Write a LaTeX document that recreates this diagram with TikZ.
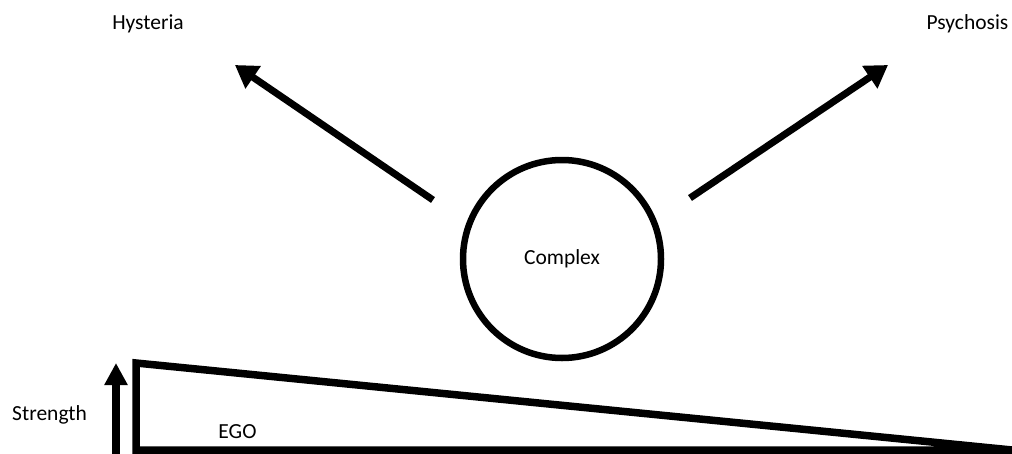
\documentclass[tikz,border=0pt]{standalone}
\usepackage{fontspec}
\setmainfont{Carlito}
\usetikzlibrary{arrows.meta}
\tikzset{
	lbl/.style={font=\fontsize{21.5}{26}\selectfont,inner sep=0pt,anchor=base},
	fatarrow/.style={line width=7pt,-{Triangle[width=26pt,length=22pt]}}
}
\begin{document}
\begin{tikzpicture}[x=1pt,y=-1pt]
	\useasboundingbox (0,0) rectangle (1012,453);
	\node[lbl] (hyst) at (148,29.3) {Hysteria};
	\node[lbl] (psych) at (967.5,29.3) {Psychosis};
	\node[circle,draw,line width=6.5pt,minimum size=198pt,inner sep=0pt,
	font=\fontsize{21.5}{26}\selectfont] (complex) at (562,259) {Complex};
	\coordinate (ltail) at (433,200); \coordinate (lhead) at (235,65);
	\coordinate (rtail) at (690,198); \coordinate (rhead) at (888,65);
	\draw[fatarrow] (ltail)--(lhead);
	\draw[fatarrow] (rtail)--(rhead);
	% ego wedge
	\draw[line width=7.5pt,line join=miter] (136,363)--(1012,450)--(136,450)--cycle;
	\node[lbl] (ego) at (237.5,438) {EGO};
	\node[lbl] (strength) at (49.5,420) {Strength};
	\coordinate (sfoot) at (116,455); \coordinate (stop) at (116,363);
	\draw[line width=8.5pt,-{Triangle[width=22pt,length=22pt]}] (sfoot)--(stop);
\end{tikzpicture}
\end{document}
